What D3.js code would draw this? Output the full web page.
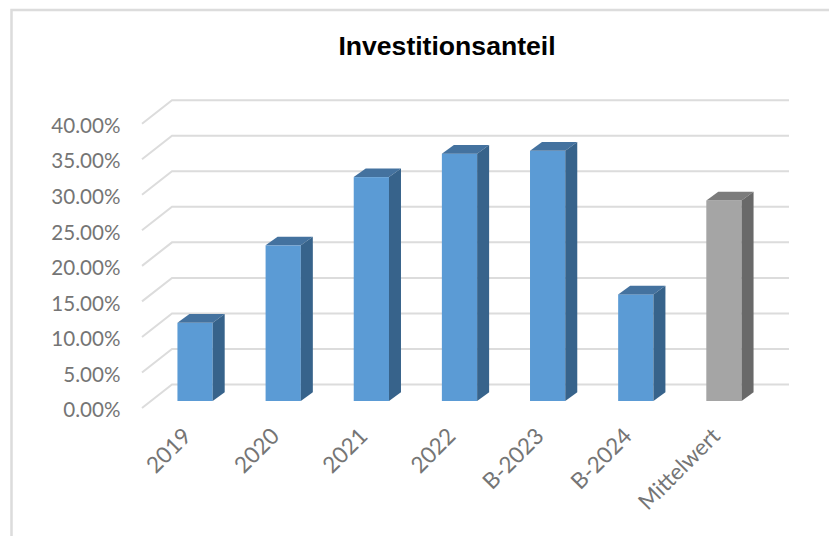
<!DOCTYPE html>
<html>
<head>
<meta charset="utf-8">
<script src="https://cdn.jsdelivr.net/npm/d3@7"></script>
<style>
  html, body { margin: 0; padding: 0; background: #fff; }
  svg { display: block; }
</style>
</head>
<body>
<svg></svg>
<script>
let categories = ['2019', '2020', '2021', '2022', 'B-2023', 'B-2024', 'Mittelwert'];
let shares = [0.11, 0.219, 0.315, 0.348, 0.352, 0.15, 0.282];
let yTicks = [0, 0.05, 0.1, 0.15, 0.2, 0.25, 0.3, 0.35, 0.4];

let width = 829;
let height = 536;

// depth of the 3d floor, and the offset of the bars' own top/side faces
let depthX = 30;
let depthY = -23.5;
let dx = 12;
let dy = -8.7;

let svg = d3.select('svg')
            .attr('width', width)
            .attr('height', height);

// plane the bars are standing on
let xScale = d3.scaleBand()
               .domain(categories)
               .range([151, 768])
               .paddingInner(0.6)
               .paddingOuter(0.3);

let yScale = d3.scaleLinear()
               .domain([0, 0.4])
               .range([401, 116.7]);

// frame, open on the right and at the bottom
svg.append('path')
   .attr('d', 'M11.5,536V10H829')
   .attr('fill', 'none')
   .attr('stroke', '#dcdcdc')
   .attr('stroke-width', 2.5);

// gridlines: one slanted piece on the side wall, one along the back
let gridX0 = 142;
let gridY = v => yScale(v) + 7;

svg.append('g')
   .selectAll('path')
   .data(yTicks)
   .enter()
   .append('path')
   .attr('d', d => `M${gridX0},${gridY(d)}l${depthX},${depthY}H789`)
   .attr('fill', 'none')
   .attr('stroke', '#dcdcdc')
   .attr('stroke-width', 2);

// bars
let bars = svg.append('g')
              .selectAll('g')
              .data(categories)
              .enter()
              .append('g');

let colors = d => d === 'Mittelwert'
    ? { front: '#a5a5a5', top: '#7c7c7c', side: '#696969' }
    : { front: '#5b9bd5', top: '#44729f', side: '#37638b' };

bars.each(function (d, i) {
    let g = d3.select(this);
    let x0 = xScale(d);
    let x1 = x0 + xScale.bandwidth();
    let y0 = yScale(0);
    let y1 = yScale(shares[i]);

    g.append('rect')
     .attr('x', x0)
     .attr('y', y1)
     .attr('width', x1 - x0)
     .attr('height', y0 - y1)
     .attr('fill', colors(d).front);

    g.append('path')
     .attr('d', `M${x0},${y1}l${dx},${dy}H${x1 + dx}L${x1},${y1}Z`)
     .attr('fill', colors(d).top);

    g.append('path')
     .attr('d', `M${x1},${y1}l${dx},${dy}V${y0 + dy}L${x1},${y0}Z`)
     .attr('fill', colors(d).side);
});

// y axis labels
let labelFont = 'Lato, "Open Sans", sans-serif';

svg.append('g')
   .selectAll('text')
   .data(yTicks)
   .enter()
   .append('text')
   .attr('x', 120.5)
   .attr('y', d => yScale(d) + 9)
   .attr('dy', '0.35em')
   .attr('text-anchor', 'end')
   .attr('font-family', labelFont)
   .attr('font-size', 20.6)
   .attr('fill', '#757575')
   .text(d => d3.format('.2%')(d));

// x axis labels, rotated 45 degrees
svg.append('g')
   .selectAll('text')
   .data(categories)
   .enter()
   .append('text')
   .attr('transform', d => `translate(${xScale(d) + xScale.bandwidth() / 2 - 8}, 432) rotate(-45)`)
   .attr('dy', '0.35em')
   .attr('text-anchor', 'end')
   .attr('font-family', labelFont)
   .attr('font-size', 22.5)
   .attr('fill', '#757575')
   .text(d => d);

// title
svg.append('text')
   .attr('x', 447)
   .attr('y', 54.5)
   .attr('text-anchor', 'middle')
   .attr('font-family', '"Liberation Sans", Arial, sans-serif')
   .attr('font-weight', 'bold')
   .attr('font-size', 26.6)
   .attr('fill', '#000')
   .text('Investitionsanteil');
</script>
</body>
</html>
